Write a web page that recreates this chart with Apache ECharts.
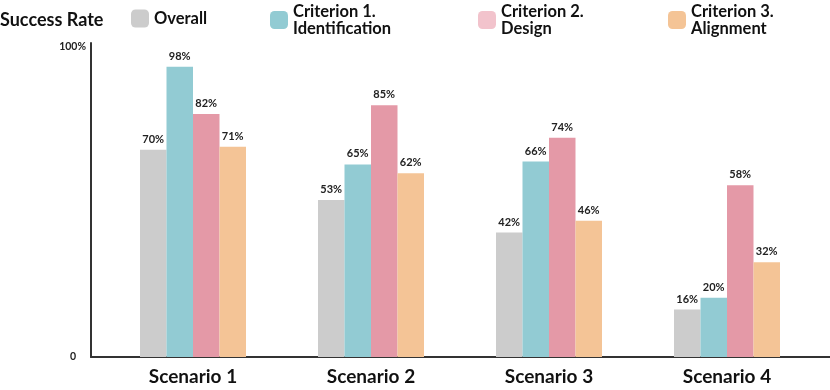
<!DOCTYPE html>
<html>
<head>
<meta charset="utf-8">
<script src="https://cdn.jsdelivr.net/npm/echarts@6/dist/echarts.min.js"></script>
<style>
  html, body { margin: 0; padding: 0; background: #fff; }
  #chart { width: 830px; height: 390px; }
</style>
</head>
<body>
<div id="chart"></div>
<script>
// data
var scenarios = ['Scenario 1', 'Scenario 2', 'Scenario 3', 'Scenario 4'];
var seriesNames = ['Overall', 'Criterion 1.\nIdentification', 'Criterion 2.\nDesign', 'Criterion 3.\nAlignment'];
var overall = [70, 53, 42, 16];
var criterion1 = [98, 65, 66, 20];
var criterion2 = [82, 85, 74, 58];
var criterion3 = [71, 62, 46, 32];

var barColors = ['#cccccc', '#92cbd3', '#e499a7', '#f4c496'];
var legendColors = ['#cccccc', '#92cbd3', '#f2c3cc', '#f4c496'];
var legendLeft = [131, 270, 478, 668];
var legendTop = [9.5, 3, 3, 3];
var yMax = 106;

var font = 'Lato, "Open Sans", sans-serif';

var myChart = echarts.init(document.getElementById('chart'));

// one legend per item so each can sit where the reference puts it
var legends = seriesNames.map(function (name, i) {
    return {
        left: legendLeft[i],
        top: legendTop[i],
        padding: 0,
        data: [{ name: name, itemStyle: { color: legendColors[i] } }],
        icon: 'roundRect',
        itemWidth: 18,
        itemHeight: 18,
        itemGap: 0,
        selectedMode: false,
        textStyle: {
            fontFamily: font,
            fontWeight: 'bold',
            fontSize: 16.5,
            lineHeight: 17,
            color: '#111'
        }
    };
});

function makeSeries(name, data, i) {
    return {
        name: name,
        type: 'bar',
        xAxisIndex: 1,
        yAxisIndex: 1,
        data: data,
        barWidth: 26.5,
        barGap: '0%',
        itemStyle: { color: barColors[i] },
        label: {
            show: true,
            position: 'top',
            distance: 5,
            formatter: '{c}%',
            fontFamily: font,
            fontWeight: 'bold',
            fontSize: 11,
            color: '#222'
        }
    };
}

var option = {
    backgroundColor: '#fff',
    animation: false,
    title: {
        text: 'Success Rate',
        left: 0,
        top: 11.5,
        padding: 0,
        textStyle: {
            fontFamily: font,
            fontWeight: 'bold',
            fontSize: 18,
            color: '#111'
        }
    },
    legend: legends,
    grid: [
        { left: 91, right: 0, top: 43, bottom: 33 },   // axis lines
        { left: 104, right: 14, top: 43, bottom: 33 }  // bars
    ],
    xAxis: [
        {
            type: 'value',
            gridIndex: 0,
            axisLine: { show: true, onZero: false, lineStyle: { color: '#333', width: 2 } },
            axisTick: { show: false },
            axisLabel: { show: false },
            splitLine: { show: false }
        },
        {
            type: 'category',
            gridIndex: 1,
            data: scenarios,
            axisLine: { show: false },
            axisTick: { show: false },
            axisLabel: {
                margin: 10,
                fontFamily: font,
                fontWeight: 'bold',
                fontSize: 19,
                color: '#111'
            }
        }
    ],
    yAxis: [
        {
            type: 'value',
            gridIndex: 0,
            min: 0,
            max: yMax,
            interval: yMax,
            axisLine: { show: true, lineStyle: { color: '#333', width: 2 } },
            axisTick: { show: false },
            splitLine: { show: false },
            axisLabel: {
                margin: 5,
                fontFamily: font,
                fontWeight: 'bold',
                fontSize: 10.5,
                color: '#222',
                formatter: function (v) { return v === 0 ? '{z|0}' : '{t|100%}'; },
                rich: {
                    z: { padding: [0, 10, 0, 0], fontFamily: font, fontWeight: 'bold', fontSize: 10.5 },
                    t: { padding: [8, 0, 0, 0], fontFamily: font, fontWeight: 'bold', fontSize: 10.5 }
                }
            }
        },
        {
            type: 'value',
            gridIndex: 1,
            min: 0,
            max: yMax,
            show: false
        }
    ],
    series: [
        makeSeries(seriesNames[0], overall, 0),
        makeSeries(seriesNames[1], criterion1, 1),
        makeSeries(seriesNames[2], criterion2, 2),
        makeSeries(seriesNames[3], criterion3, 3)
    ]
};

myChart.setOption(option);
</script>
</body>
</html>
